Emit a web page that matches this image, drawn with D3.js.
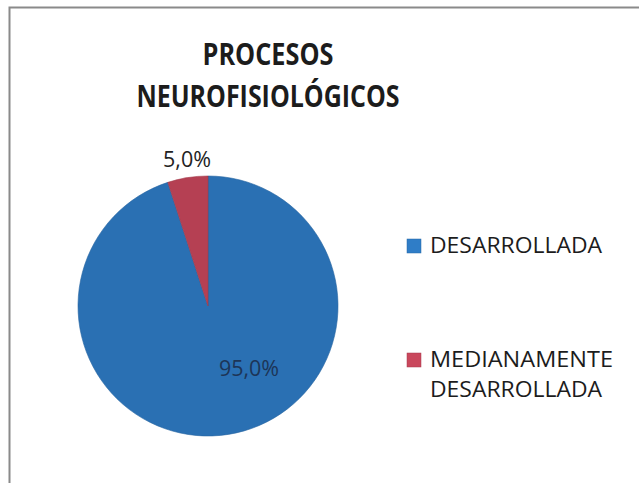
<!DOCTYPE html>
<html><head><meta charset="utf-8">
<script src="https://cdn.jsdelivr.net/npm/d3@7"></script>
<style>body{margin:0;background:#fff}svg{display:block}</style>
</head><body>
<script>
const categories = ["DESARROLLADA", "MEDIANAMENTE DESARROLLADA"];
const values = [95.0, 5.0];
const valueLabels = ["95,0%", "5,0%"];
const titleLines = ["PROCESOS", "NEUROFISIOLÓGICOS"];
const colors = ["#2f7dc7", "#c9475c"];

const W = 639, H = 483;
const svg = d3.select("body").append("svg").attr("width", W).attr("height", H);
svg.append("rect").attr("width", W).attr("height", H).attr("fill", "#fff");
// frame
svg.append("path").attr("d", `M9.5,${H} V7.5 H${W}`).attr("fill", "none").attr("stroke", "#8a8a8a").attr("stroke-width", 2);

const font = "'Open Sans', 'Liberation Sans', sans-serif";
// title
svg.selectAll("text.title").data(titleLines).join("text")
  .attr("x", 268).attr("y", (d, i) => 65 + i * 42)
  .attr("text-anchor", "middle").attr("font-family", font).attr("font-weight", 700)
  .attr("font-size", 30.5).attr("fill", "#1c1c1c")
  .attr("textLength", (d, i) => i === 0 ? 131 : 263).attr("lengthAdjust", "spacingAndGlyphs")
  .text(d => d);

// pie
const cx = 208, cy = 306, R = 130;
const defs = svg.append("defs");
colors.forEach((c, i) => {
  const g = defs.append("radialGradient").attr("id", "g" + i)
    .attr("gradientUnits", "userSpaceOnUse").attr("cx", cx).attr("cy", cy).attr("r", R);
  g.append("stop").attr("offset", "0.88").attr("stop-color", c);
  g.append("stop").attr("offset", "1").attr("stop-color", d3.color(c).darker(0.3));
});
const pie = d3.pie().sort(null).value(d => d)(values);
const arc = d3.arc().innerRadius(0).outerRadius(R);
const gp = svg.append("g").attr("transform", `translate(${cx},${cy})`);
gp.selectAll("path").data(pie).join("path")
  .attr("d", arc).attr("fill", (d, i) => `url(#g${i})`)
  .attr("stroke", (d, i) => d3.color(colors[i]).darker(0.6)).attr("stroke-width", 0.6);

// data labels
const labelPos = [[249, 376], [187, 167]];
const labelColor = ["#1d3557", "#222"];
svg.selectAll("text.lbl").data(pie).join("text")
  .attr("x", (d, i) => labelPos[i][0]).attr("y", (d, i) => labelPos[i][1])
  .attr("text-anchor", "middle").attr("font-family", font).attr("font-size", 21.5)
  .attr("fill", (d, i) => labelColor[i])
  .text((d, i) => valueLabels[i]);

// legend
const legendLines = [["DESARROLLADA"], ["MEDIANAMENTE", "DESARROLLADA"]];
const legY = [253, 367];
const lg = svg.append("g");
legendLines.forEach((lines, i) => {
  lg.append("rect").attr("x", 407).attr("y", legY[i] - 14).attr("width", 14).attr("height", 14)
    .attr("fill", colors[i]).attr("stroke", d3.color(colors[i]).darker(0.5)).attr("stroke-width", 0.5);
  lines.forEach((t, j) => {
    lg.append("text").attr("x", 430).attr("y", legY[i] + j * 30)
      .attr("font-family", font).attr("font-size", 21).attr("fill", "#1c1c1c")
      .attr("textLength", t === "MEDIANAMENTE" ? 183 : 172).attr("lengthAdjust", "spacingAndGlyphs")
      .text(t);
  });
});
</script>
</body></html>
